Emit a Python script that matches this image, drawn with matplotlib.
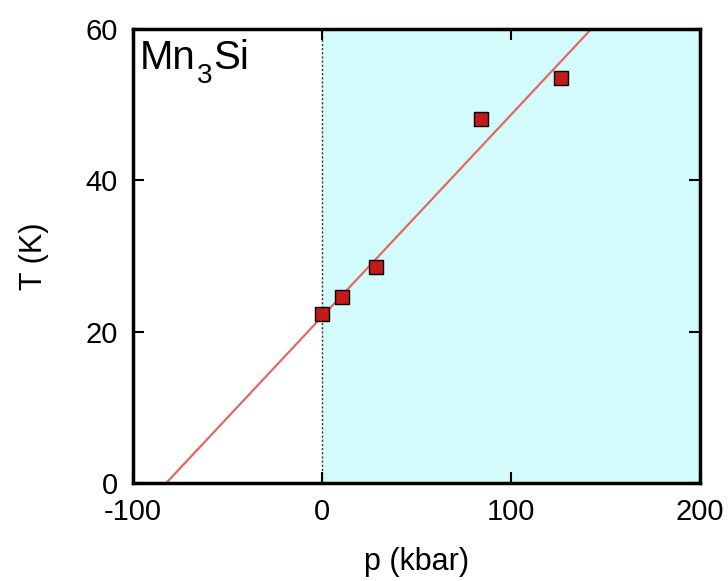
import matplotlib
matplotlib.use('Agg')
import matplotlib.pyplot as plt

plt.rcParams['font.family'] = ['Liberation Sans', 'DejaVu Sans']
plt.rcParams['axes.unicode_minus'] = False

# measured points
p_data = [0, 10.5, 28.5, 84, 126.5]
T_data = [22.3, 24.6, 28.5, 48.1, 53.5]

# linear fit line
fit_p = [-82.4, 142.5]
fit_T = [0, 60]

fig = plt.figure(figsize=(7.28, 5.81), dpi=100)
ax = fig.add_axes([0.1827, 0.1687, 0.7788, 0.7814])

ax.axvspan(0, 200, color='#d3fbfb', zorder=0)
ax.axvline(0, color='#333333', ls=(0, (1.5, 1.5)), lw=1, zorder=1)
ax.plot(fit_p, fit_T, color='#e06a63', lw=1.6, zorder=2)
ax.plot(p_data, T_data, 's', ms=10, mfc='#c41a1a', mec='black', mew=1.0, zorder=3)

ax.set_xlim(-100, 200)
ax.set_ylim(0, 60)
ax.set_xticks([-100, 0, 100, 200])
ax.set_yticks([0, 20, 40, 60])
ax.tick_params(direction='in', top=True, right=True, length=8, width=1.5,
               labelsize=21)
ax.tick_params(axis='x', pad=11)
ax.tick_params(axis='y', pad=11)
for s in ax.spines.values():
    s.set_linewidth(2.5)

ax.set_xlabel('p (kbar)', fontsize=22, labelpad=15)
ax.set_ylabel('T (K)', fontsize=22, labelpad=26)

# compound name with a low subscript
t1 = ax.text(0.0125, 0.977, 'Mn', transform=ax.transAxes, fontsize=29,
             va='top', ha='left')
t3 = ax.annotate('3', xy=(1, 0), xycoords=t1, xytext=(0.5, -4),
                 textcoords='offset points', fontsize=20, va='baseline', ha='left')
ax.annotate('Si', xy=(1, 0), xycoords=(t3, t1), xytext=(0.5, 0),
            textcoords='offset points', fontsize=29, va='bottom', ha='left')

fig.savefig('out.png', dpi=100)
